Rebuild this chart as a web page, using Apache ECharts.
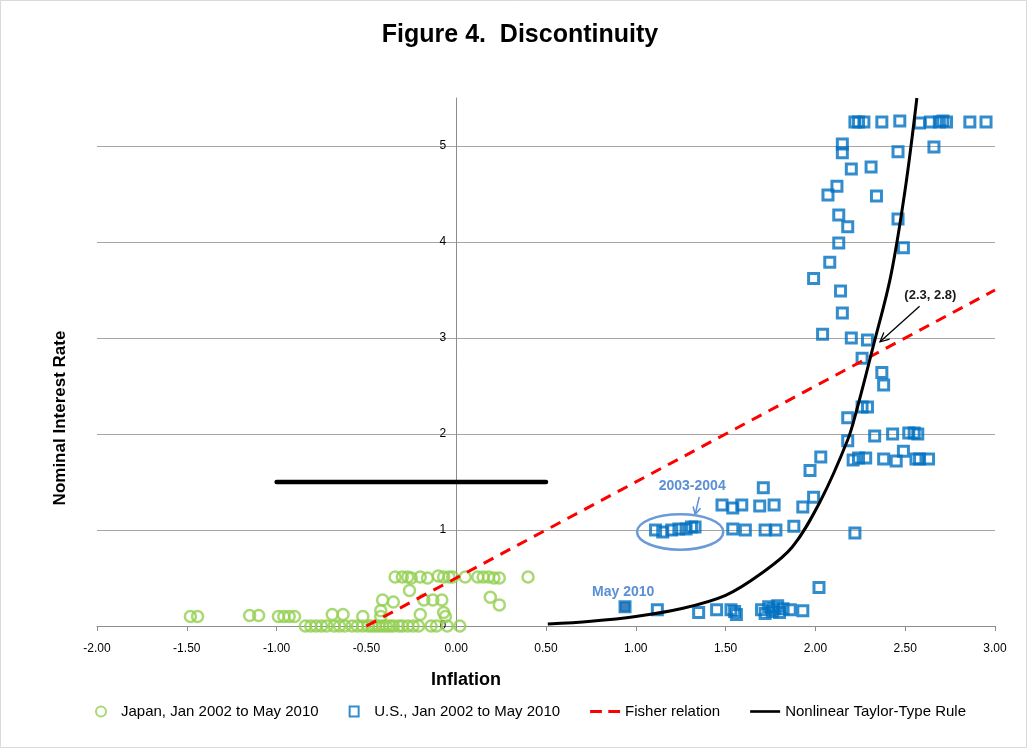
<!DOCTYPE html>
<html>
<head>
<meta charset="utf-8">
<script src="https://cdn.jsdelivr.net/npm/echarts@6/dist/echarts.min.js"></script>
<style>
html,body{margin:0;padding:0;background:#fff;}
#chart{width:1029px;height:751px;}
</style>
</head>
<body>
<div id="chart"></div>
<script>
// ---------------- DATA ----------------
const titleText = 'Figure 4.  Discontinuity';
const xAxisTitle = 'Inflation';
const yAxisTitle = 'Nominal Interest Rate';
const seriesNames = ['Japan, Jan 2002 to May 2010', 'U.S., Jan 2002 to May 2010', 'Fisher relation', 'Nonlinear Taylor-Type Rule'];

// Japan: [inflation, nominal rate]
const japanPoints = [
  // zero row
  [-0.84,0],[-0.81,0],[-0.78,0],[-0.75,0],[-0.72,0],[-0.68,0],[-0.65,0],[-0.62,0],[-0.58,0],[-0.55,0],
  [-0.52,0],[-0.49,0],[-0.47,0],[-0.45,0],[-0.43,0],[-0.41,0],[-0.39,0],[-0.37,0],[-0.35,0],[-0.32,0],
  [-0.30,0],[-0.27,0],[-0.24,0],[-0.21,0],[-0.14,0],[-0.11,0],[-0.05,0],[0.02,0],
  // ~0.1 row
  [-1.48,0.1],[-1.44,0.1],[-1.15,0.11],[-1.10,0.11],[-0.99,0.1],[-0.96,0.1],[-0.93,0.1],[-0.90,0.1],
  [-0.69,0.12],[-0.63,0.12],[-0.52,0.1],[-0.42,0.1],[-0.42,0.16],[-0.20,0.12],[-0.07,0.14],[-0.06,0.1],
  // ~0.25 row
  [-0.41,0.27],[-0.35,0.25],[-0.18,0.27],[-0.13,0.27],[-0.08,0.27],[0.19,0.30],[0.24,0.22],[-0.26,0.37],
  // 0.5 row
  [-0.34,0.51],[-0.30,0.51],[-0.27,0.51],[-0.25,0.50],[-0.20,0.51],[-0.16,0.50],[-0.10,0.52],[-0.07,0.51],
  [-0.04,0.51],[-0.02,0.51],[0.05,0.51],[0.12,0.51],[0.15,0.51],[0.18,0.51],[0.21,0.50],[0.24,0.50],[0.40,0.51]
];

// United States: [inflation, nominal rate]
const usPoints = [
  [1.12,0.17],[1.35,0.14],[1.45,0.17],[1.53,0.17],[1.55,0.15],[1.56,0.12],[1.70,0.17],[1.72,0.13],[1.74,0.20],
  [1.76,0.15],[1.77,0.18],[1.79,0.21],[1.80,0.14],[1.82,0.18],[1.86,0.17],[1.93,0.16],[2.02,0.40],
  [1.11,1.00],[1.15,0.98],[1.20,1.00],[1.24,1.01],[1.28,1.01],[1.31,1.03],[1.33,1.03],
  [1.54,1.01],[1.61,1.00],[1.72,1.00],[1.78,1.00],[1.88,1.04],[2.22,0.97],
  [1.48,1.26],[1.54,1.23],[1.59,1.26],[1.69,1.25],[1.77,1.26],[1.71,1.44],[1.93,1.24],[1.99,1.34],
  [1.97,1.62],[2.03,1.76],[2.18,1.93],[2.18,2.17],[2.26,2.28],[2.29,2.28],
  [2.21,1.73],[2.24,1.75],[2.28,1.75],[2.33,1.98],[2.38,1.74],[2.43,2.00],[2.45,1.72],[2.49,1.82],
  [2.52,2.01],[2.55,2.01],[2.57,2.00],[2.56,1.74],[2.58,1.74],[2.63,1.74],
  [2.04,3.04],[2.20,3.00],[2.29,2.98],[2.26,2.79],[2.37,2.64],[2.38,2.51],
  [1.99,3.62],[2.14,3.49],[2.15,3.26],
  [2.08,3.79],[2.13,3.99],[2.49,3.94],[2.13,4.28],[2.18,4.16],[2.46,4.24],[2.12,4.58],[2.07,4.49],
  [2.34,4.48],[2.20,4.76],[2.31,4.78],[2.15,5.02],[2.15,4.93],[2.46,4.94],[2.66,4.99],
  [2.22,5.25],[2.24,5.25],[2.27,5.25],[2.37,5.25],[2.47,5.26],[2.58,5.24],[2.64,5.25],[2.69,5.25],
  [2.71,5.26],[2.73,5.25],[2.86,5.25],[2.95,5.25]
];
const usMay2010 = [[0.94,0.20]];

const fisherLine = [[-0.5,0.0],[3.0,3.5]];
const taylorCurve = [
  [0.51,0.02],[0.75,0.05],[1.0,0.10],[1.25,0.18],[1.5,0.32],[1.7,0.55],[1.87,0.82],
  [2.03,1.31],[2.18,1.94],[2.23,2.25],[2.32,2.9],[2.42,3.65],[2.5,4.55],[2.565,5.5]
];
const blackBar = [[-1.0,1.5],[0.5,1.5]];

// annotation anchors (data coordinates)
const noteIntersect = {text:'(2.3, 2.8)', at:[2.64,3.44], from:[2.58,3.33], to:[2.36,2.96]};
const note0304 = {text:'2003-2004', at:[1.314,1.46], from:[1.353,1.345], to:[1.331,1.165],
                  ellipse:{c:[1.247,0.98], hw:0.24, hh:0.185}};
const noteMay = {text:'May 2010', at:[0.93,0.355]};

// ---------------- CHART ----------------
const FONT = "'Liberation Sans', Arial, sans-serif";
const chart = echarts.init(document.getElementById('chart'));
const gridLeft = 97, gridRight = 34, gridTop = 98, gridBottom = 125;

const squareIcon = 'path://M0,0H9V10H0Z';
const dashIcon = 'path://M0,0H11V3H0Z M17,0H28V3H17Z';
const barIcon = 'path://M0,0H40V3.5H0Z';

const option = {
  animation: false,
  backgroundColor: '#fff',
  textStyle: {fontFamily: FONT},
  grid: {left: gridLeft, right: gridRight, top: gridTop, bottom: gridBottom, containLabel: false},
  legend: {
    data: [
      {name: seriesNames[0], icon: 'circle'},
      {name: seriesNames[1], icon: squareIcon},
      {name: seriesNames[2], icon: dashIcon, itemStyle: {color: '#FF0000', borderWidth: 0}},
      {name: seriesNames[3], icon: barIcon, itemStyle: {color: '#000', borderWidth: 0}}
    ],
    left: 90, top: 699,
    itemWidth: 30, itemHeight: 10, itemGap: 30,
    symbolKeepAspect: true,
    textStyle: {fontSize: 15, color: '#000', fontFamily: FONT},
    selectedMode: false
  },
  xAxis: {
    type: 'value', min: -2, max: 3, interval: 0.5,
    axisLine: {show: true, onZero: true, lineStyle: {color: '#8c8c8c', width: 1}},
    axisTick: {show: true, length: 5, lineStyle: {color: '#8c8c8c'}},
    axisLabel: {fontSize: 12, color: '#000', margin: 17, formatter: v => v.toFixed(2)},
    splitLine: {show: false}
  },
  yAxis: {
    type: 'value', min: 0, max: 5.5, interval: 1,
    axisLine: {show: true, onZero: false, lineStyle: {color: '#8c8c8c', width: 1}},
    axisTick: {show: false},
    axisLabel: {fontSize: 12, color: '#000', margin: 10,
      formatter: v => (Number.isInteger(v) ? String(v) : '')},
    splitLine: {show: true, showMaxLine: false, lineStyle: {color: '#a6a6a6', width: 1}}
  },
  series: [
    {
      name: seriesNames[0], type: 'scatter', data: japanPoints,
      symbol: 'circle', symbolSize: 11,
      itemStyle: {color: 'rgba(255,255,255,0)', borderColor: '#92D050', borderWidth: 2.5},
      emphasis: {disabled: true}, z: 2
    },
    {
      name: seriesNames[1], type: 'scatter', data: usPoints,
      symbol: 'rect', symbolSize: 10,
      itemStyle: {color: 'rgba(255,255,255,0)', borderColor: '#0070C0', borderWidth: 3},
      emphasis: {disabled: true}, z: 3
    },
    {
      name: 'US May 2010', type: 'scatter', data: usMay2010,
      symbol: 'rect', symbolSize: 10,
      itemStyle: {color: '#1560A8', borderColor: '#0070C0', borderWidth: 3},
      emphasis: {disabled: true}, z: 3
    },
    {
      name: seriesNames[2], type: 'line', data: fisherLine,
      symbol: 'none', showSymbol: false,
      lineStyle: {color: '#FF0000', width: 3, type: [11, 8]},
      itemStyle: {color: '#FF0000'},
      emphasis: {disabled: true}, z: 4
    },
    {
      name: seriesNames[3], type: 'line', data: taylorCurve,
      symbol: 'none', showSymbol: false, smooth: 0.35,
      lineStyle: {color: '#000', width: 3},
      itemStyle: {color: '#000'},
      emphasis: {disabled: true}, z: 5
    },
    {
      name: 'bar', type: 'line', data: blackBar,
      symbol: 'none', showSymbol: false,
      lineStyle: {color: '#000', width: 4.5, cap: 'round'},
      emphasis: {disabled: true}, z: 5
    }
  ]
};
chart.setOption(option);

// place the y axis (line + labels) on inflation = 0, like the original
const zeroX = chart.convertToPixel({xAxisIndex: 0}, 0);
chart.setOption({yAxis: {offset: -(zeroX - gridLeft)}});

// ---------------- ANNOTATIONS ----------------
function P(p){ return chart.convertToPixel({gridIndex: 0}, p); }
function arrowHead(from, to, len, ang){
  const dx = from[0]-to[0], dy = from[1]-to[1];
  const a = Math.atan2(dy, dx);
  return [
    [to[0] + len*Math.cos(a+ang), to[1] + len*Math.sin(a+ang)],
    to,
    [to[0] + len*Math.cos(a-ang), to[1] + len*Math.sin(a-ang)]
  ];
}
const noteBlue = '#5B8FD6';
const iFrom = P(noteIntersect.from), iTo = P(noteIntersect.to), iAt = P(noteIntersect.at);
const aFrom = P(note0304.from), aTo = P(note0304.to), aAt = P(note0304.at);
const ec = P(note0304.ellipse.c);
const ex = P([note0304.ellipse.c[0] + note0304.ellipse.hw, note0304.ellipse.c[1] + note0304.ellipse.hh]);
const mAt = P(noteMay.at);

chart.setOption({
  graphic: [
    {type:'rect', shape:{x:0.5, y:0.5, width:1026, height:747}, style:{fill:'none', stroke:'#d9d9d9', lineWidth:1}, silent:true},
    {type:'text', x:520, y:35, style:{text:titleText, font:"bold 25px " + FONT, fill:'#000', align:'center', verticalAlign:'middle'}},
    {type:'text', x:466, y:680, style:{text:xAxisTitle, font:"bold 18px " + FONT, fill:'#000', align:'center', verticalAlign:'middle'}},
    {type:'text', x:60, y:418, rotation:Math.PI/2, style:{text:yAxisTitle, font:"bold 17px " + FONT, fill:'#000', align:'center', verticalAlign:'middle'}},
    // (2.3, 2.8)
    {type:'text', x:iAt[0], y:iAt[1], z:20, style:{text:noteIntersect.text, font:"bold 13px " + FONT, fill:'#1a1a1a', align:'center', verticalAlign:'middle'}},
    {type:'polyline', z:20, shape:{points:[iFrom, iTo]}, style:{stroke:'#000', lineWidth:1.3, fill:'none'}},
    {type:'polyline', z:20, shape:{points:arrowHead(iFrom, iTo, 10, 0.45)}, style:{stroke:'#000', lineWidth:1.3, fill:'none'}},
    // 2003-2004
    {type:'text', x:aAt[0], y:aAt[1], z:20, style:{text:note0304.text, font:"bold 14px " + FONT, fill:noteBlue, align:'center', verticalAlign:'middle'}},
    {type:'polyline', z:20, shape:{points:[aFrom, aTo]}, style:{stroke:noteBlue, lineWidth:1.5, fill:'none'}},
    {type:'polyline', z:20, shape:{points:arrowHead(aFrom, aTo, 8, 0.5)}, style:{stroke:noteBlue, lineWidth:1.5, fill:'none'}},
    {type:'ellipse', z:20, shape:{cx:ec[0], cy:ec[1], rx:Math.abs(ex[0]-ec[0]), ry:Math.abs(ec[1]-ex[1])}, style:{fill:'none', stroke:'#6A9BD8', lineWidth:2.5}},
    // May 2010
    {type:'text', x:mAt[0], y:mAt[1], z:20, style:{text:noteMay.text, font:"bold 14px " + FONT, fill:noteBlue, align:'center', verticalAlign:'middle'}}
  ]
});
</script>
</body>
</html>
